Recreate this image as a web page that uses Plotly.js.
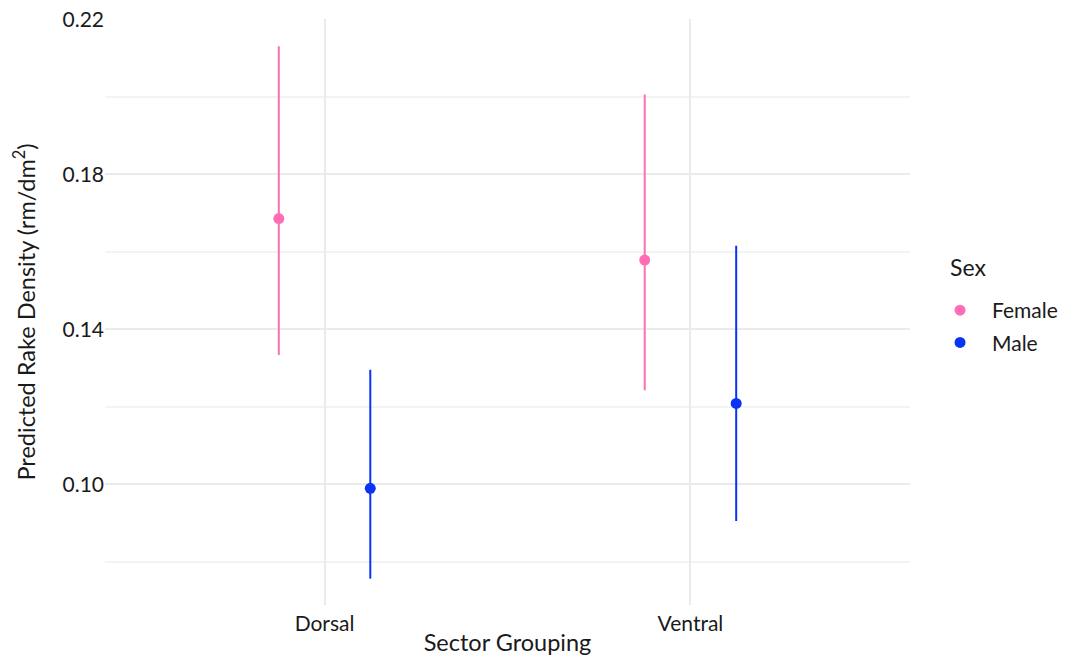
<!DOCTYPE html>
<html>
<head>
<meta charset="utf-8">
<script src="https://cdn.plot.ly/plotly-3.0.1.min.js"></script>
<style>html,body{margin:0;padding:0;background:#fff;}#chart{width:1066px;height:657px;}</style>
</head>
<body>
<div id="chart"></div>
<script>
const categories = ["Dorsal", "Ventral"];
const femaleFit = [0.1686, 0.1579];
const femaleLower = [0.1334, 0.1243];
const femaleUpper = [0.2131, 0.2006];
const maleFit = [0.0990, 0.1209];
const maleLower = [0.0757, 0.0906];
const maleUpper = [0.1296, 0.1616];
const yTicks = [0.10, 0.14, 0.18, 0.22];

const dodge = 0.125;
function mk(name, fit, lo, hi, off, color) {
  return {
    type: "scatter", mode: "markers", name: name, legendgroup: name,
    x: categories.map((c, i) => i + off),
    y: fit,
    marker: {color: color, size: 11},
    error_y: {type: "data", symmetric: false,
      array: hi.map((h, i) => h - fit[i]),
      arrayminus: lo.map((l, i) => fit[i] - l),
      width: 0, thickness: 2, color: color},
    hoverinfo: "x+y"
  };
}
const data = [
  mk("Female", femaleFit, femaleLower, femaleUpper, -dodge, "#ff6eb4"),
  mk("Male", maleFit, maleLower, maleUpper, dodge, "#0a34f5")
];
const font = "Lato, 'Open Sans', sans-serif";
const layout = {
  width: 1066, height: 657,
  margin: {l: 105, r: 156, t: 19, b: 52, autoexpand: false},
  paper_bgcolor: "#fff", plot_bgcolor: "#fff",
  font: {family: font, color: "#1a1a1a", size: 21},
  showlegend: true,
  legend: {x: 1.0224, xanchor: "left", y: 0.5375, yanchor: "top",
    font: {size: 21}, itemwidth: 54, tracegroupgap: 2},
  annotations: [{text: "Sex", xref: "paper", yref: "paper", x: 1.047, y: 0.5768,
    xanchor: "left", yanchor: "middle", showarrow: false, font: {size: 23}}],
  xaxis: {
    range: [-0.6, 1.6], tickvals: categories.map((c, i) => i), ticktext: categories,
    showgrid: true, gridcolor: "#ebebeb", gridwidth: 2, zeroline: false,
    showline: false, ticks: "", tickfont: {size: 21, color: "#1a1a1a"},
    ticklabelstandoff: 4,
    title: {text: "Sector Grouping", font: {size: 23.5}, standoff: 0}
  },
  yaxis: {
    range: [0.0689, 0.2201], tickvals: yTicks, tickformat: ".2f",
    showgrid: true, gridcolor: "#ebebeb", gridwidth: 2, zeroline: false,
    showline: false, ticks: "", tickfont: {size: 21, color: "#1a1a1a"},
    minor: {tickvals: [0.08, 0.12, 0.16, 0.20], showgrid: true, gridcolor: "#f3f3f3", gridwidth: 1.5},
    title: {text: "Predicted Rake Density (rm/dm<sup>2</sup>)", font: {size: 23.5}, standoff: 20}
  }
};
Plotly.newPlot("chart", data, layout, {displayModeBar: false, staticPlot: true});
</script>
</body>
</html>
